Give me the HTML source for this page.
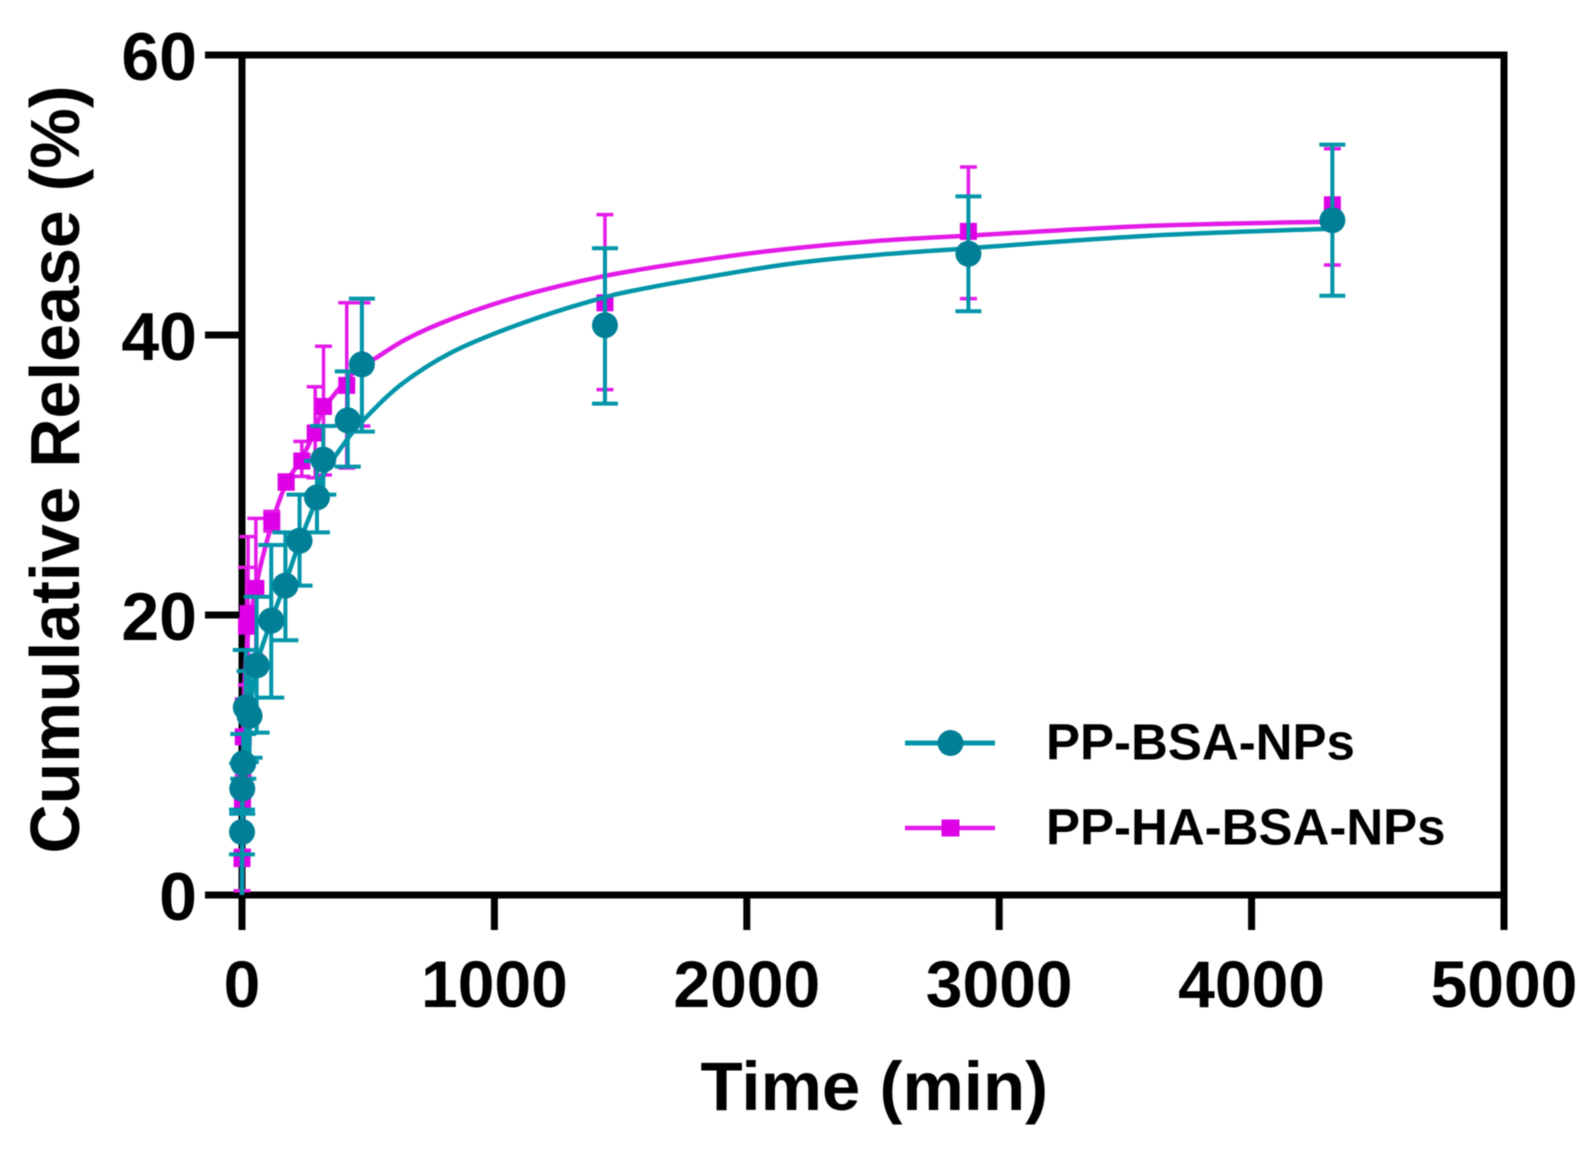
<!DOCTYPE html>
<html lang="en">
<head>
<meta charset="utf-8">
<title>Cumulative Release vs Time</title>
<style>
html,body{margin:0;padding:0;background:#fff;width:1594px;height:1154px;overflow:hidden}
svg{display:block;filter:blur(0.6px)}
text{font-family:"Liberation Sans",Arial,sans-serif;font-weight:700;fill:#000}
</style>
</head>
<body>
<svg id="chart" xmlns="http://www.w3.org/2000/svg" width="1594" height="1154" viewBox="0 0 1594 1154">
<rect x="0" y="0" width="1594" height="1154" fill="#fff"/>
<g id="axes"></g>
<g id="series"></g>
<text x="700.5" y="1110" font-size="69">Time (min)</text>
<text transform="translate(79,469.5) rotate(-90)" text-anchor="middle" font-size="70" textLength="768" lengthAdjust="spacingAndGlyphs">Cumulative Release (%)</text>
<g>
<g>
<line x1="905" y1="743" x2="995" y2="743" stroke="#0095a8" stroke-width="5"/>
<circle cx="950.5" cy="743" r="13" fill="#007f96"/>
<text x="1046" y="759.5" font-size="51">PP-BSA-NPs</text>
</g>
<g>
<line x1="905" y1="828" x2="995" y2="828" stroke="#e31ae8" stroke-width="4.5"/>
<rect x="941.5" y="819.5" width="18" height="17" fill="#dd00e6"/>
<text x="1046" y="844.5" font-size="51">PP-HA-BSA-NPs</text>
</g>
</g>
</svg>
<script>
var xTicks = [0, 1000, 2000, 3000, 4000, 5000];
var yTicks = [0, 20, 40, 60];

var bsaTime = [0, 1, 5, 15, 30, 58, 116, 172, 228, 297, 322, 419, 475, 1438, 2878, 4320];
var bsaValue = [4.5, 7.6, 9.4, 13.4, 12.8, 16.4, 19.6, 22.1, 25.3, 28.4, 31.1, 33.9, 37.9, 40.7, 45.8, 48.2];
var bsaUpper = [6.1, 9.4, 11.5, 17.5, 16, 21.3, 25, 25.9, 28.6, 31, 33.5, 37.4, 42.6, 46.2, 49.9, 53.6];
var bsaLower = [2.9, 5.8, 8.3, 9.5, 9.8, 11.6, 14.1, 18.2, 22.1, 25.9, 28.6, 30.6, 33.1, 35.1, 41.7, 42.8];

var haTime = [0, 2, 5, 18, 24, 55, 118, 175, 237, 290, 323, 415, 475, 1438, 2878, 4320];
var haValue = [2.6, 6.5, 11.3, 19.2, 20.1, 21.9, 26.7, 29.5, 31, 33, 34.9, 36.4, 37.9, 42.3, 47.4, 49.3];
var haUpper = [5, 9.8, 14, 23.4, 25.6, 26.9, 27.4, 30, 32.4, 36.3, 39.2, 42.3, 42.3, 48.6, 52, 53.3];
var haLower = [0.3, 3.2, 8.5, 15, 15, 17.1, 26, 29, 29.9, 29.8, 30, 30.5, 33.5, 36.1, 42.6, 45];

var bsaFitTime = [0, 5, 30, 58, 116, 172, 228, 297, 322, 419, 480, 626, 824, 1088, 1378, 1616, 2138, 2500, 2880, 3604, 4320];
var bsaFitValue = [0, 9.4, 13, 16.4, 19.6, 22.3, 25.2, 28.4, 30, 32.6, 33.9, 36.4, 38.7, 40.7, 42.4, 43.4, 45, 45.7, 46.2, 47.1, 47.6];
var haFitTime = [0, 5, 18, 55, 118, 175, 237, 290, 323, 415, 475, 534, 650, 824, 1088, 1432, 1800, 2138, 2500, 2880, 3604, 4320];
var haFitValue = [0, 11.3, 17.5, 22, 26.5, 29.4, 31.2, 33.2, 34.7, 36.8, 37.8, 38.4, 39.7, 41.1, 42.7, 44.2, 45.3, 46.1, 46.7, 47.1, 47.8, 48.1];

var NS = 'http://www.w3.org/2000/svg';
var X0 = 242, XS = 0.2524, Y0 = 895, YS = 14;
function sx(t) { return X0 + t * XS; }
function sy(v) { return Y0 - v * YS; }
function make(tag, attrs, parent) {
  var el = document.createElementNS(NS, tag);
  for (var k in attrs) { el.setAttribute(k, attrs[k]); }
  parent.appendChild(el);
  return el;
}
function smoothPath(ts, vs) {
  var p = ts.map(function (t, i) { return [sx(t), sy(vs[i])]; });
  var d = 'M' + p[0][0].toFixed(1) + ' ' + p[0][1].toFixed(1);
  for (var i = 0; i < p.length - 1; i++) {
    var a = p[Math.max(i - 1, 0)], b = p[i], c = p[i + 1], e = p[Math.min(i + 2, p.length - 1)];
    var c1x = b[0] + (c[0] - a[0]) / 6, c1y = b[1] + (c[1] - a[1]) / 6;
    var c2x = c[0] - (e[0] - b[0]) / 6, c2y = c[1] - (e[1] - b[1]) / 6;
    d += ' C' + c1x.toFixed(1) + ' ' + c1y.toFixed(1) + ' ' + c2x.toFixed(1) + ' ' + c2y.toFixed(1) + ' ' + c[0].toFixed(1) + ' ' + c[1].toFixed(1);
  }
  return d;
}
var axes = document.getElementById('axes');
var series = document.getElementById('series');

var frame = make('rect', {x: sx(0), y: sy(60), width: sx(5000) - sx(0), height: sy(0) - sy(60), fill: 'none', stroke: '#000', 'stroke-width': 7}, axes);



xTicks.forEach(function (t) {
  var tick = make('line', {x1: sx(t), x2: sx(t), y1: sy(0), y2: sy(0) + 35, stroke: '#000', 'stroke-width': 7}, axes);
  
  
  var label = make('text', {x: sx(t), y: 1007, 'text-anchor': 'middle', 'font-size': 66}, axes);
  label.textContent = t;
  
  
});
yTicks.forEach(function (v) {
  var tick = make('line', {x1: sx(0) - 37, x2: sx(0), y1: sy(v), y2: sy(v), stroke: '#000', 'stroke-width': 7}, axes);
  
  
  var label = make('text', {x: 197, y: sy(v) + 25, 'text-anchor': 'end', 'font-size': 68}, axes);
  label.textContent = v;
  
  
});

function drawSeries(name, times, values, upper, lower, fitT, fitV, lineColor, markColor, capW, barW, drawMarker) {
  var g = make('g', {}, series);
  
  
  var fit = make('path', {d: smoothPath(fitT, fitV), fill: 'none', stroke: lineColor, 'stroke-width': 4.5, 'stroke-linejoin': 'round'}, g);
  
  
  times.forEach(function (t, i) {
    var x = sx(t);
    var bar = make('line', {x1: x, x2: x, y1: sy(upper[i]), y2: sy(lower[i]), stroke: lineColor, 'stroke-width': barW}, g);
    
    
    [upper[i], lower[i]].forEach(function (v) {
      var cap = make('line', {x1: x - capW / 2, x2: x + capW / 2, y1: sy(v), y2: sy(v), stroke: lineColor, 'stroke-width': barW}, g);
      
      
    });
  });
  times.forEach(function (t, i) {
    var m = drawMarker(sx(t), sy(values[i]), g, markColor);
    
    
  });
}
function square(x, y, g, c) { return make('rect', {x: x - 8.5, y: y - 8.5, width: 17, height: 17, fill: c}, g); }
function circle(x, y, g, c) { return make('circle', {cx: x, cy: y, r: 13, fill: c}, g); }

drawSeries('pp-ha-bsa-nps', haTime, haValue, haUpper, haLower, haFitTime, haFitValue, '#e31ae8', '#dd00e6', 17, 3.5, square);
drawSeries('pp-bsa-nps', bsaTime, bsaValue, bsaUpper, bsaLower, bsaFitTime, bsaFitValue, '#0095a8', '#007f96', 26, 4, circle);
</script>
</body>
</html>
